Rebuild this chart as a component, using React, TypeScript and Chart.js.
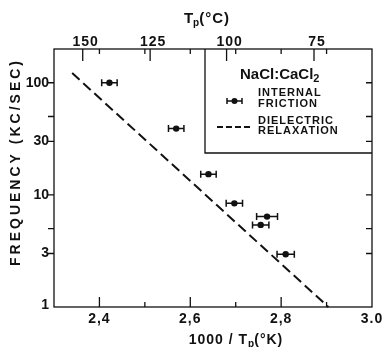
import React, { useEffect, useRef } from "react";
import { Chart, registerables } from "chart.js";

Chart.register(...registerables);

// ---- data ----
const xVals = [2.422, 2.569, 2.64, 2.697, 2.769, 2.755, 2.81];
const yVals = [100, 39, 15.3, 8.4, 6.4, 5.4, 2.95];
const xErr = [0.017, 0.017, 0.017, 0.018, 0.023, 0.018, 0.019];
const relaxX = [2.34, 2.904];
const relaxY = [122, 1];

const yTickMarks = [3, 5, 10, 30, 50, 100];
const yTickLabels = [1, 3, 10, 30, 100];
const xMajorTicks = [2.4, 2.6, 2.8];
const xMinorTicks = [2.5, 2.7, 2.9];
const xTickValues = [2.4, 2.6, 2.8, 3.0];
const xTickLabels = ["2,4", "2,6", "2,8", "3.0"];
const topTempTicks = [150, 125, 100, 75];

const INK = "#111";
const FONT = '"Liberation Sans", Arial, sans-serif';

type Part = { t: string; font: string; dy?: number; ls?: string };

function drawParts(ctx: CanvasRenderingContext2D, parts: Part[], x: number, y: number, align: "left" | "center") {
  let total = 0;
  const widths = parts.map((p) => {
    ctx.font = p.font;
    (ctx as any).letterSpacing = p.ls || "0px";
    const w = ctx.measureText(p.t).width;
    total += w;
    return w;
  });
  let cx = align === "center" ? x - total / 2 : x;
  parts.forEach((p, i) => {
    ctx.font = p.font;
    (ctx as any).letterSpacing = p.ls || "0px";
    ctx.textAlign = "left";
    ctx.fillText(p.t, cx, y + (p.dy || 0));
    cx += widths[i];
  });
  (ctx as any).letterSpacing = "0px";
}

const decor = {
  id: "decor",
  beforeDatasetsDraw(chart: any) {
    const { ctx, chartArea: a, scales } = chart;
    const xs = scales.x;
    const ys = scales.y;
    ctx.save();
    ctx.strokeStyle = INK;
    ctx.fillStyle = INK;
    ctx.lineWidth = 1.3;
    ctx.strokeRect(a.left, a.top, a.right - a.left, a.bottom - a.top);

    ctx.beginPath();
    // y ticks: outward on left, inward on right
    yTickMarks.forEach((v) => {
      const py = ys.getPixelForValue(v);
      ctx.moveTo(a.left - 6, py);
      ctx.lineTo(a.left, py);
      ctx.moveTo(a.right, py);
      ctx.lineTo(a.right - 6, py);
    });
    // bottom ticks inward
    xMajorTicks.forEach((v) => {
      const px = xs.getPixelForValue(v);
      ctx.moveTo(px, a.bottom);
      ctx.lineTo(px, a.bottom - 10);
    });
    xMinorTicks.forEach((v) => {
      const px = xs.getPixelForValue(v);
      ctx.moveTo(px, a.bottom);
      ctx.lineTo(px, a.bottom - 5);
    });
    // top ticks inward
    [...xMajorTicks, ...xMinorTicks].forEach((v) => {
      const px = xs.getPixelForValue(v);
      ctx.moveTo(px, a.top);
      ctx.lineTo(px, a.top + 5);
    });
    topTempTicks.forEach((t) => {
      const px = xs.getPixelForValue(1000 / (t + 273.15));
      ctx.moveTo(px, a.top);
      ctx.lineTo(px, a.top + 12);
    });
    ctx.stroke();

    // legend box
    const bx = 205;
    const by = 153;
    ctx.beginPath();
    ctx.moveTo(bx, a.top);
    ctx.lineTo(bx, by);
    ctx.lineTo(a.right, by);
    ctx.stroke();

    // tick labels
    ctx.textBaseline = "middle";
    ctx.font = `bold 14px ${FONT}`;
    ctx.textAlign = "right";
    yTickLabels.forEach((v) => {
      const py = ys.getPixelForValue(v);
      ctx.fillText(String(v), a.left - 5, v === 1 ? py - 2 : py);
    });
    (ctx as any).letterSpacing = "1px";
    ctx.textAlign = "center";
    xTickValues.forEach((v, i) => {
      const px = xs.getPixelForValue(v);
      ctx.fillText(xTickLabels[i], px, a.bottom + 12);
    });
    topTempTicks.forEach((t) => {
      const px = xs.getPixelForValue(1000 / (t + 273.15));
      ctx.fillText(String(t), px + 3, a.top - 7);
    });
    (ctx as any).letterSpacing = "0px";

    // axis titles
    const big = `bold 14px ${FONT}`;
    const sub = `bold 10px ${FONT}`;
    drawParts(
      ctx,
      [
        { t: "1000 / T", font: big, ls: "1px" },
        { t: "p", font: sub, dy: 4 },
        { t: "(°K)", font: big, ls: "1px" },
      ],
      (a.left + a.right) / 2 + 23,
      340,
      "center"
    );
    drawParts(
      ctx,
      [
        { t: "T", font: `bold 15px ${FONT}` },
        { t: "p", font: sub, dy: 4 },
        { t: "(°C)", font: `bold 15px ${FONT}`, ls: "1px" },
      ],
      207,
      19,
      "center"
    );
    ctx.save();
    ctx.translate(16, 162);
    ctx.rotate(-Math.PI / 2);
    ctx.font = `bold 14px ${FONT}`;
    (ctx as any).letterSpacing = "3px";
    ctx.textAlign = "center";
    ctx.fillText("FREQUENCY (KC/SEC)", 0, 0);
    (ctx as any).letterSpacing = "0px";
    ctx.restore();

    // legend contents
    drawParts(
      ctx,
      [
        { t: "NaCl:CaCl", font: `bold 15px ${FONT}` },
        { t: "2", font: `bold 11px ${FONT}`, dy: 4 },
      ],
      240,
      75,
      "left"
    );
    ctx.font = `bold 11px ${FONT}`;
    (ctx as any).letterSpacing = "1px";
    ctx.textAlign = "left";
    ctx.fillText("INTERNAL", 258, 93);
    ctx.fillText("FRICTION", 258, 104);
    ctx.fillText("DIELECTRIC", 258, 120.5);
    ctx.fillText("RELAXATION", 258, 131);
    (ctx as any).letterSpacing = "0px";

    ctx.lineWidth = 1.5;
    ctx.beginPath();
    ctx.moveTo(227, 101);
    ctx.lineTo(242, 101);
    ctx.moveTo(227, 98);
    ctx.lineTo(227, 104);
    ctx.moveTo(242, 98);
    ctx.lineTo(242, 104);
    ctx.stroke();
    ctx.beginPath();
    ctx.arc(234.5, 101, 3, 0, Math.PI * 2);
    ctx.fill();

    ctx.lineWidth = 2;
    ctx.setLineDash([6, 3]);
    ctx.beginPath();
    ctx.moveTo(217, 127);
    ctx.lineTo(251, 127);
    ctx.stroke();
    ctx.setLineDash([]);

    // error bars
    ctx.lineWidth = 1.5;
    ctx.beginPath();
    xVals.forEach((xv, i) => {
      const py = ys.getPixelForValue(yVals[i]);
      const x0 = xs.getPixelForValue(xv - xErr[i]);
      const x1 = xs.getPixelForValue(xv + xErr[i]);
      ctx.moveTo(x0, py);
      ctx.lineTo(x1, py);
      ctx.moveTo(x0, py - 3.5);
      ctx.lineTo(x0, py + 3.5);
      ctx.moveTo(x1, py - 3.5);
      ctx.lineTo(x1, py + 3.5);
    });
    ctx.stroke();
    ctx.restore();
  },
};

export default function App() {
  const ref = useRef<HTMLCanvasElement>(null);
  useEffect(() => {
    if (!ref.current) return;
    const chart = new Chart(ref.current, {
      type: "scatter",
      data: {
        datasets: [
          {
            label: "Internal friction",
            data: xVals.map((x, i) => ({ x, y: yVals[i] })),
            pointRadius: 3.2,
            pointBackgroundColor: INK,
            pointBorderColor: INK,
            pointBorderWidth: 0,
            showLine: false,
          },
          {
            label: "Dielectric relaxation",
            data: relaxX.map((x, i) => ({ x, y: relaxY[i] })),
            showLine: true,
            borderColor: INK,
            borderWidth: 2,
            borderDash: [10, 5],
            pointRadius: 0,
            clip: false as any,
          },
        ],
      },
      options: {
        responsive: false,
        animation: false,
        layout: { padding: { left: 54, right: 14, top: 49, bottom: 40 } },
        scales: {
          x: { type: "linear", min: 2.3, max: 3.0, display: false },
          y: { type: "logarithmic", min: 1, max: 200, display: false },
        },
        plugins: { legend: { display: false }, tooltip: { enabled: false } },
      },
      plugins: [decor],
    });
    return () => chart.destroy();
  }, []);
  return (
    <div style={{ position: "fixed", left: 0, top: 0, width: 386, height: 347, background: "#fff" }}>
      <canvas ref={ref} width={386} height={347} style={{ display: "block" }} />
    </div>
  );
}
